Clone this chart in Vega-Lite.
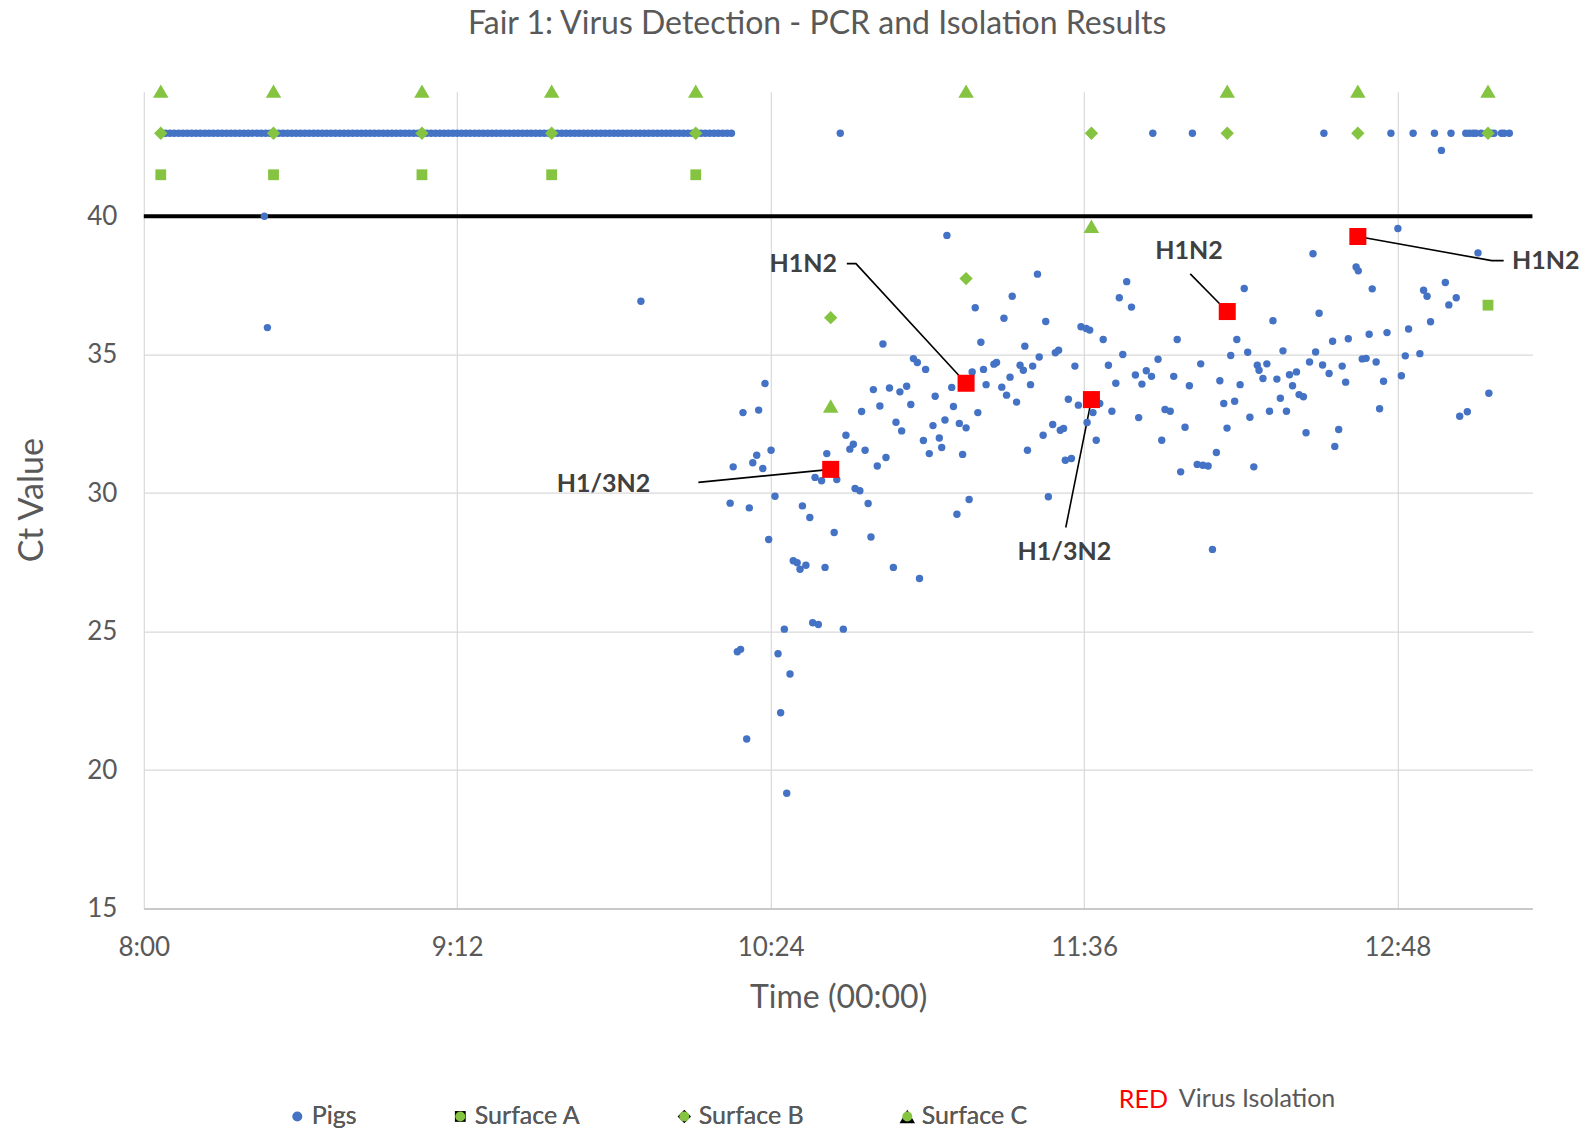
{
  "$schema": "https://vega.github.io/schema/vega-lite/v6.json",
  "width": 1388.6,
  "height": 816.8,
  "autosize": {"type": "none"},
  "padding": {"left": 143.8, "top": 91.7, "right": 55.6, "bottom": 223.5},
  "background": "white",
  "title": {
    "text": "Fair 1: Virus Detection - PCR and Isolation Results",
    "font": "Lato", "fontSize": 32, "fontWeight": "normal", "color": "#595959",
    "anchor": "middle", "dx": -21, "baseline": "bottom", "offset": 11
  },
  "config": {
    "view": {"stroke": null},
    "axis": {"labelFont": "Lato", "titleFont": "Lato", "labelColor": "#595959", "titleColor": "#595959", "titleFontWeight": "normal", "gridColor": "#D9D9D9", "gridWidth": 1.2, "ticks": false, "tickSize": 0}
  },
  "datasets": {
    "pts": [
      {"t":484,"ct":43,"s":"Pigs"},{"t":485,"ct":43,"s":"Pigs"},{"t":486,"ct":43,"s":"Pigs"},{"t":487,"ct":43,"s":"Pigs"},{"t":488,"ct":43,"s":"Pigs"},{"t":489,"ct":43,"s":"Pigs"},{"t":490,"ct":43,"s":"Pigs"},{"t":491,"ct":43,"s":"Pigs"},{"t":492,"ct":43,"s":"Pigs"},{"t":493,"ct":43,"s":"Pigs"},
      {"t":494,"ct":43,"s":"Pigs"},{"t":495,"ct":43,"s":"Pigs"},{"t":496,"ct":43,"s":"Pigs"},{"t":497,"ct":43,"s":"Pigs"},{"t":498,"ct":43,"s":"Pigs"},{"t":499,"ct":43,"s":"Pigs"},{"t":500,"ct":43,"s":"Pigs"},{"t":501,"ct":43,"s":"Pigs"},{"t":502,"ct":43,"s":"Pigs"},{"t":503,"ct":43,"s":"Pigs"},
      {"t":504,"ct":43,"s":"Pigs"},{"t":505,"ct":43,"s":"Pigs"},{"t":506,"ct":43,"s":"Pigs"},{"t":507,"ct":43,"s":"Pigs"},{"t":508,"ct":43,"s":"Pigs"},{"t":509,"ct":43,"s":"Pigs"},{"t":510,"ct":43,"s":"Pigs"},{"t":511,"ct":43,"s":"Pigs"},{"t":512,"ct":43,"s":"Pigs"},{"t":513,"ct":43,"s":"Pigs"},
      {"t":514,"ct":43,"s":"Pigs"},{"t":515,"ct":43,"s":"Pigs"},{"t":516,"ct":43,"s":"Pigs"},{"t":517,"ct":43,"s":"Pigs"},{"t":518,"ct":43,"s":"Pigs"},{"t":519,"ct":43,"s":"Pigs"},{"t":520,"ct":43,"s":"Pigs"},{"t":521,"ct":43,"s":"Pigs"},{"t":522,"ct":43,"s":"Pigs"},{"t":523,"ct":43,"s":"Pigs"},
      {"t":524,"ct":43,"s":"Pigs"},{"t":525,"ct":43,"s":"Pigs"},{"t":526,"ct":43,"s":"Pigs"},{"t":527,"ct":43,"s":"Pigs"},{"t":528,"ct":43,"s":"Pigs"},{"t":529,"ct":43,"s":"Pigs"},{"t":530,"ct":43,"s":"Pigs"},{"t":531,"ct":43,"s":"Pigs"},{"t":532,"ct":43,"s":"Pigs"},{"t":533,"ct":43,"s":"Pigs"},
      {"t":534,"ct":43,"s":"Pigs"},{"t":535,"ct":43,"s":"Pigs"},{"t":536,"ct":43,"s":"Pigs"},{"t":537,"ct":43,"s":"Pigs"},{"t":538,"ct":43,"s":"Pigs"},{"t":539,"ct":43,"s":"Pigs"},{"t":540,"ct":43,"s":"Pigs"},{"t":541,"ct":43,"s":"Pigs"},{"t":542,"ct":43,"s":"Pigs"},{"t":543,"ct":43,"s":"Pigs"},
      {"t":544,"ct":43,"s":"Pigs"},{"t":545,"ct":43,"s":"Pigs"},{"t":546,"ct":43,"s":"Pigs"},{"t":547,"ct":43,"s":"Pigs"},{"t":548,"ct":43,"s":"Pigs"},{"t":549,"ct":43,"s":"Pigs"},{"t":550,"ct":43,"s":"Pigs"},{"t":551,"ct":43,"s":"Pigs"},{"t":552,"ct":43,"s":"Pigs"},{"t":553,"ct":43,"s":"Pigs"},
      {"t":554,"ct":43,"s":"Pigs"},{"t":555,"ct":43,"s":"Pigs"},{"t":556,"ct":43,"s":"Pigs"},{"t":557,"ct":43,"s":"Pigs"},{"t":558,"ct":43,"s":"Pigs"},{"t":559,"ct":43,"s":"Pigs"},{"t":560,"ct":43,"s":"Pigs"},{"t":561,"ct":43,"s":"Pigs"},{"t":562,"ct":43,"s":"Pigs"},{"t":563,"ct":43,"s":"Pigs"},
      {"t":564,"ct":43,"s":"Pigs"},{"t":565,"ct":43,"s":"Pigs"},{"t":566,"ct":43,"s":"Pigs"},{"t":567,"ct":43,"s":"Pigs"},{"t":568,"ct":43,"s":"Pigs"},{"t":569,"ct":43,"s":"Pigs"},{"t":570,"ct":43,"s":"Pigs"},{"t":571,"ct":43,"s":"Pigs"},{"t":572,"ct":43,"s":"Pigs"},{"t":573,"ct":43,"s":"Pigs"},
      {"t":574,"ct":43,"s":"Pigs"},{"t":575,"ct":43,"s":"Pigs"},{"t":576,"ct":43,"s":"Pigs"},{"t":577,"ct":43,"s":"Pigs"},{"t":578,"ct":43,"s":"Pigs"},{"t":579,"ct":43,"s":"Pigs"},{"t":580,"ct":43,"s":"Pigs"},{"t":581,"ct":43,"s":"Pigs"},{"t":582,"ct":43,"s":"Pigs"},{"t":583,"ct":43,"s":"Pigs"},
      {"t":584,"ct":43,"s":"Pigs"},{"t":585,"ct":43,"s":"Pigs"},{"t":586,"ct":43,"s":"Pigs"},{"t":587,"ct":43,"s":"Pigs"},{"t":588,"ct":43,"s":"Pigs"},{"t":589,"ct":43,"s":"Pigs"},{"t":590,"ct":43,"s":"Pigs"},{"t":591,"ct":43,"s":"Pigs"},{"t":592,"ct":43,"s":"Pigs"},{"t":593,"ct":43,"s":"Pigs"},
      {"t":594,"ct":43,"s":"Pigs"},{"t":595,"ct":43,"s":"Pigs"},{"t":596,"ct":43,"s":"Pigs"},{"t":597,"ct":43,"s":"Pigs"},{"t":598,"ct":43,"s":"Pigs"},{"t":599,"ct":43,"s":"Pigs"},{"t":600,"ct":43,"s":"Pigs"},{"t":601,"ct":43,"s":"Pigs"},{"t":602,"ct":43,"s":"Pigs"},{"t":603,"ct":43,"s":"Pigs"},
      {"t":604,"ct":43,"s":"Pigs"},{"t":605,"ct":43,"s":"Pigs"},{"t":606,"ct":43,"s":"Pigs"},{"t":607,"ct":43,"s":"Pigs"},{"t":608,"ct":43,"s":"Pigs"},{"t":609,"ct":43,"s":"Pigs"},{"t":610,"ct":43,"s":"Pigs"},{"t":611,"ct":43,"s":"Pigs"},{"t":612,"ct":43,"s":"Pigs"},{"t":613,"ct":43,"s":"Pigs"},
      {"t":614,"ct":43,"s":"Pigs"},{"t":615,"ct":43,"s":"Pigs"},
      {"t":640.0,"ct":43,"s":"Pigs"},{"t":711.8,"ct":43,"s":"Pigs"},{"t":720.9,"ct":43,"s":"Pigs"},{"t":751.1,"ct":43,"s":"Pigs"},{"t":766.5,"ct":43,"s":"Pigs"},{"t":771.6,"ct":43,"s":"Pigs"},{"t":776.5,"ct":43,"s":"Pigs"},{"t":780.3,"ct":43,"s":"Pigs"},{"t":783.7,"ct":43,"s":"Pigs"},{"t":784.5,"ct":43,"s":"Pigs"},
      {"t":785.4,"ct":43,"s":"Pigs"},{"t":786.0,"ct":43,"s":"Pigs"},{"t":787.2,"ct":43,"s":"Pigs"},{"t":788.5,"ct":43,"s":"Pigs"},{"t":789.5,"ct":43,"s":"Pigs"},{"t":790.2,"ct":43,"s":"Pigs"},{"t":791.9,"ct":43,"s":"Pigs"},{"t":792.5,"ct":43,"s":"Pigs"},{"t":793.7,"ct":43,"s":"Pigs"},{"t":778.1,"ct":42.38,"s":"Pigs"},
      {"t":594.2,"ct":36.93,"s":"Pigs"},{"t":664.5,"ct":39.31,"s":"Pigs"},{"t":507.7,"ct":40.0,"s":"Pigs"},{"t":508.4,"ct":35.98,"s":"Pigs"},
      {"t":685.3,"ct":37.91,"s":"Pigs"},{"t":679.5,"ct":37.11,"s":"Pigs"},{"t":671.0,"ct":36.70,"s":"Pigs"},{"t":677.6,"ct":36.32,"s":"Pigs"},{"t":687.2,"ct":36.20,"s":"Pigs"},{"t":649.8,"ct":35.39,"s":"Pigs"},{"t":672.3,"ct":35.45,"s":"Pigs"},{"t":682.4,"ct":35.31,"s":"Pigs"},{"t":656.8,"ct":34.86,"s":"Pigs"},{"t":657.7,"ct":34.72,"s":"Pigs"},
      {"t":685.7,"ct":34.92,"s":"Pigs"},{"t":675.9,"ct":34.72,"s":"Pigs"},{"t":675.3,"ct":34.66,"s":"Pigs"},{"t":681.3,"ct":34.62,"s":"Pigs"},{"t":682.05,"ct":34.44,"s":"Pigs"},{"t":684.2,"ct":34.59,"s":"Pigs"},{"t":659.6,"ct":34.47,"s":"Pigs"},{"t":670.3,"ct":34.38,"s":"Pigs"},{"t":672.9,"ct":34.47,"s":"Pigs"},{"t":679.0,"ct":34.19,"s":"Pigs"},
      {"t":622.7,"ct":33.96,"s":"Pigs"},{"t":647.6,"ct":33.74,"s":"Pigs"},{"t":651.3,"ct":33.80,"s":"Pigs"},{"t":653.7,"ct":33.66,"s":"Pigs"},{"t":655.25,"ct":33.86,"s":"Pigs"},{"t":665.6,"ct":33.82,"s":"Pigs"},{"t":673.5,"ct":33.92,"s":"Pigs"},{"t":677.1,"ct":33.83,"s":"Pigs"},{"t":678.2,"ct":33.54,"s":"Pigs"},{"t":683.7,"ct":33.92,"s":"Pigs"},
      {"t":680.5,"ct":33.29,"s":"Pigs"},{"t":661.8,"ct":33.50,"s":"Pigs"},{"t":656.2,"ct":33.20,"s":"Pigs"},{"t":649.1,"ct":33.15,"s":"Pigs"},{"t":666.0,"ct":33.13,"s":"Pigs"},{"t":644.9,"ct":32.95,"s":"Pigs"},{"t":617.65,"ct":32.91,"s":"Pigs"},{"t":621.25,"ct":33.00,"s":"Pigs"},{"t":671.6,"ct":32.91,"s":"Pigs"},{"t":652.8,"ct":32.56,"s":"Pigs"},
      {"t":654.1,"ct":32.25,"s":"Pigs"},{"t":661.3,"ct":32.44,"s":"Pigs"},{"t":664.05,"ct":32.64,"s":"Pigs"},{"t":667.35,"ct":32.52,"s":"Pigs"},{"t":668.9,"ct":32.36,"s":"Pigs"},{"t":686.6,"ct":32.09,"s":"Pigs"},{"t":683.0,"ct":31.55,"s":"Pigs"},{"t":641.3,"ct":32.09,"s":"Pigs"},{"t":643.0,"ct":31.77,"s":"Pigs"},{"t":642.2,"ct":31.59,"s":"Pigs"},
      {"t":659.1,"ct":31.90,"s":"Pigs"},{"t":662.75,"ct":31.99,"s":"Pigs"},{"t":663.3,"ct":31.65,"s":"Pigs"},{"t":645.7,"ct":31.55,"s":"Pigs"},{"t":650.5,"ct":31.29,"s":"Pigs"},{"t":648.5,"ct":30.98,"s":"Pigs"},{"t":636.9,"ct":31.43,"s":"Pigs"},{"t":668.1,"ct":31.40,"s":"Pigs"},{"t":660.45,"ct":31.43,"s":"Pigs"},{"t":624.1,"ct":31.55,"s":"Pigs"},
      {"t":620.8,"ct":31.37,"s":"Pigs"},{"t":619.9,"ct":31.10,"s":"Pigs"},{"t":622.2,"ct":30.89,"s":"Pigs"},{"t":615.4,"ct":30.95,"s":"Pigs"},{"t":634.2,"ct":30.57,"s":"Pigs"},{"t":635.7,"ct":30.45,"s":"Pigs"},{"t":639.2,"ct":30.49,"s":"Pigs"},{"t":643.4,"ct":30.17,"s":"Pigs"},{"t":644.5,"ct":30.09,"s":"Pigs"},{"t":625.0,"ct":29.89,"s":"Pigs"},
      {"t":614.7,"ct":29.64,"s":"Pigs"},{"t":619.1,"ct":29.47,"s":"Pigs"},{"t":631.3,"ct":29.54,"s":"Pigs"},{"t":633.0,"ct":29.12,"s":"Pigs"},{"t":646.4,"ct":29.63,"s":"Pigs"},{"t":669.6,"ct":29.77,"s":"Pigs"},{"t":666.8,"ct":29.24,"s":"Pigs"},{"t":687.8,"ct":29.87,"s":"Pigs"},{"t":638.6,"ct":28.58,"s":"Pigs"},{"t":623.55,"ct":28.33,"s":"Pigs"},
      {"t":647.05,"ct":28.42,"s":"Pigs"},{"t":629.2,"ct":27.56,"s":"Pigs"},{"t":630.1,"ct":27.49,"s":"Pigs"},{"t":632.1,"ct":27.40,"s":"Pigs"},{"t":630.75,"ct":27.25,"s":"Pigs"},{"t":636.5,"ct":27.32,"s":"Pigs"},{"t":652.2,"ct":27.32,"s":"Pigs"},{"t":658.2,"ct":26.92,"s":"Pigs"},
      {"t":627.15,"ct":25.09,"s":"Pigs"},{"t":633.66,"ct":25.32,"s":"Pigs"},{"t":634.96,"ct":25.26,"s":"Pigs"},{"t":640.7,"ct":25.09,"s":"Pigs"},{"t":616.35,"ct":24.27,"s":"Pigs"},{"t":617.1,"ct":24.36,"s":"Pigs"},{"t":625.7,"ct":24.20,"s":"Pigs"},{"t":628.45,"ct":23.47,"s":"Pigs"},{"t":626.3,"ct":22.07,"s":"Pigs"},{"t":618.5,"ct":21.12,"s":"Pigs"},{"t":627.7,"ct":19.16,"s":"Pigs"},
      {"t":768.1,"ct":39.56,"s":"Pigs"},{"t":748.6,"ct":38.65,"s":"Pigs"},{"t":786.5,"ct":38.68,"s":"Pigs"},{"t":758.5,"ct":38.17,"s":"Pigs"},{"t":759.0,"ct":38.03,"s":"Pigs"},{"t":705.8,"ct":37.64,"s":"Pigs"},{"t":732.8,"ct":37.39,"s":"Pigs"},{"t":704.1,"ct":37.06,"s":"Pigs"},{"t":706.9,"ct":36.72,"s":"Pigs"},{"t":762.2,"ct":37.38,"s":"Pigs"},
      {"t":750.0,"ct":36.50,"s":"Pigs"},{"t":779.0,"ct":37.61,"s":"Pigs"},{"t":774.0,"ct":37.33,"s":"Pigs"},{"t":774.8,"ct":37.11,"s":"Pigs"},{"t":781.5,"ct":37.06,"s":"Pigs"},{"t":779.8,"ct":36.80,"s":"Pigs"},{"t":739.4,"ct":36.23,"s":"Pigs"},{"t":775.6,"ct":36.19,"s":"Pigs"},{"t":695.3,"ct":36.01,"s":"Pigs"},{"t":696.5,"ct":35.95,"s":"Pigs"},
      {"t":697.3,"ct":35.89,"s":"Pigs"},{"t":700.4,"ct":35.55,"s":"Pigs"},{"t":717.4,"ct":35.55,"s":"Pigs"},{"t":731.1,"ct":35.55,"s":"Pigs"},{"t":770.55,"ct":35.93,"s":"Pigs"},{"t":761.5,"ct":35.74,"s":"Pigs"},{"t":765.6,"ct":35.80,"s":"Pigs"},{"t":756.7,"ct":35.58,"s":"Pigs"},{"t":753.1,"ct":35.49,"s":"Pigs"},{"t":689.4,"ct":35.07,"s":"Pigs"},
      {"t":690.15,"ct":35.16,"s":"Pigs"},{"t":704.9,"ct":35.01,"s":"Pigs"},{"t":713.0,"ct":34.84,"s":"Pigs"},{"t":729.7,"ct":34.97,"s":"Pigs"},{"t":733.6,"ct":35.09,"s":"Pigs"},{"t":741.7,"ct":35.14,"s":"Pigs"},{"t":749.2,"ct":35.10,"s":"Pigs"},{"t":773.15,"ct":35.04,"s":"Pigs"},{"t":769.8,"ct":34.96,"s":"Pigs"},{"t":693.9,"ct":34.59,"s":"Pigs"},
      {"t":701.6,"ct":34.62,"s":"Pigs"},{"t":722.8,"ct":34.67,"s":"Pigs"},{"t":735.8,"ct":34.62,"s":"Pigs"},{"t":736.2,"ct":34.44,"s":"Pigs"},{"t":737.1,"ct":34.14,"s":"Pigs"},{"t":738.0,"ct":34.67,"s":"Pigs"},{"t":747.8,"ct":34.74,"s":"Pigs"},{"t":750.8,"ct":34.63,"s":"Pigs"},{"t":755.3,"ct":34.59,"s":"Pigs"},{"t":759.9,"ct":34.85,"s":"Pigs"},
      {"t":760.8,"ct":34.87,"s":"Pigs"},{"t":763.1,"ct":34.74,"s":"Pigs"},{"t":707.8,"ct":34.27,"s":"Pigs"},{"t":710.3,"ct":34.42,"s":"Pigs"},{"t":711.5,"ct":34.22,"s":"Pigs"},{"t":709.3,"ct":33.94,"s":"Pigs"},{"t":716.6,"ct":34.22,"s":"Pigs"},{"t":720.2,"ct":33.88,"s":"Pigs"},{"t":727.2,"ct":34.06,"s":"Pigs"},{"t":731.85,"ct":33.92,"s":"Pigs"},
      {"t":740.3,"ct":34.12,"s":"Pigs"},{"t":743.2,"ct":34.28,"s":"Pigs"},{"t":744.8,"ct":34.38,"s":"Pigs"},{"t":743.9,"ct":33.88,"s":"Pigs"},{"t":752.3,"ct":34.32,"s":"Pigs"},{"t":756.1,"ct":34.01,"s":"Pigs"},{"t":764.8,"ct":34.04,"s":"Pigs"},{"t":768.9,"ct":34.24,"s":"Pigs"},{"t":703.3,"ct":33.97,"s":"Pigs"},{"t":692.4,"ct":33.39,"s":"Pigs"},
      {"t":694.7,"ct":33.18,"s":"Pigs"},{"t":702.4,"ct":32.96,"s":"Pigs"},{"t":699.6,"ct":33.24,"s":"Pigs"},{"t":698.05,"ct":32.91,"s":"Pigs"},{"t":708.55,"ct":32.73,"s":"Pigs"},{"t":714.6,"ct":33.02,"s":"Pigs"},{"t":715.8,"ct":32.96,"s":"Pigs"},{"t":728.1,"ct":33.24,"s":"Pigs"},{"t":730.6,"ct":33.32,"s":"Pigs"},{"t":741.1,"ct":33.43,"s":"Pigs"},
      {"t":745.4,"ct":33.56,"s":"Pigs"},{"t":746.4,"ct":33.48,"s":"Pigs"},{"t":734.1,"ct":32.74,"s":"Pigs"},{"t":738.6,"ct":32.96,"s":"Pigs"},{"t":742.5,"ct":32.96,"s":"Pigs"},{"t":763.9,"ct":33.05,"s":"Pigs"},{"t":782.3,"ct":32.78,"s":"Pigs"},{"t":784.05,"ct":32.94,"s":"Pigs"},{"t":789.0,"ct":33.61,"s":"Pigs"},{"t":688.8,"ct":32.48,"s":"Pigs"},
      {"t":690.55,"ct":32.27,"s":"Pigs"},{"t":691.3,"ct":32.34,"s":"Pigs"},{"t":696.7,"ct":32.55,"s":"Pigs"},{"t":698.8,"ct":31.91,"s":"Pigs"},{"t":719.2,"ct":32.38,"s":"Pigs"},{"t":728.85,"ct":32.35,"s":"Pigs"},{"t":747.0,"ct":32.18,"s":"Pigs"},{"t":754.5,"ct":32.30,"s":"Pigs"},{"t":713.85,"ct":31.91,"s":"Pigs"},{"t":691.7,"ct":31.19,"s":"Pigs"},
      {"t":693.1,"ct":31.25,"s":"Pigs"},{"t":726.4,"ct":31.47,"s":"Pigs"},{"t":718.2,"ct":30.77,"s":"Pigs"},{"t":722.0,"ct":31.04,"s":"Pigs"},{"t":723.3,"ct":31.01,"s":"Pigs"},{"t":724.5,"ct":30.98,"s":"Pigs"},{"t":735.0,"ct":30.95,"s":"Pigs"},{"t":753.6,"ct":31.69,"s":"Pigs"},{"t":725.5,"ct":27.97,"s":"Pigs"},
      {"t":483.9,"ct":41.5,"s":"Surface A"},{"t":509.8,"ct":41.5,"s":"Surface A"},{"t":543.9,"ct":41.5,"s":"Surface A"},{"t":573.7,"ct":41.5,"s":"Surface A"},{"t":606.8,"ct":41.5,"s":"Surface A"},{"t":637.8,"ct":30.86,"s":"Surface A"},{"t":668.9,"ct":33.97,"s":"Surface A"},{"t":697.7,"ct":33.38,"s":"Surface A"},{"t":728.9,"ct":36.56,"s":"Surface A"},{"t":758.9,"ct":39.27,"s":"Surface A"},{"t":788.8,"ct":36.79,"s":"Surface A"},
      {"t":483.9,"ct":43,"s":"Surface B"},{"t":509.8,"ct":43,"s":"Surface B"},{"t":543.9,"ct":43,"s":"Surface B"},{"t":573.7,"ct":43,"s":"Surface B"},{"t":606.8,"ct":43,"s":"Surface B"},{"t":637.8,"ct":36.34,"s":"Surface B"},{"t":668.9,"ct":37.75,"s":"Surface B"},{"t":697.7,"ct":43,"s":"Surface B"},{"t":728.9,"ct":43,"s":"Surface B"},{"t":758.9,"ct":43,"s":"Surface B"},{"t":788.8,"ct":43,"s":"Surface B"},
      {"t":483.9,"ct":44.52,"s":"Surface C"},{"t":509.8,"ct":44.52,"s":"Surface C"},{"t":543.9,"ct":44.52,"s":"Surface C"},{"t":573.7,"ct":44.52,"s":"Surface C"},{"t":606.8,"ct":44.52,"s":"Surface C"},{"t":637.8,"ct":33.15,"s":"Surface C"},{"t":668.9,"ct":44.52,"s":"Surface C"},{"t":697.7,"ct":39.64,"s":"Surface C"},{"t":728.9,"ct":44.52,"s":"Surface C"},{"t":758.9,"ct":44.52,"s":"Surface C"},{"t":788.8,"ct":44.52,"s":"Surface C"}
    ],
    "iso": [
      {"t":637.8,"ct":30.86,"v":"Virus Isolation"},{"t":668.9,"ct":33.97,"v":"Virus Isolation"},{"t":697.7,"ct":33.38,"v":"Virus Isolation"},{"t":728.9,"ct":36.56,"v":"Virus Isolation"},{"t":758.9,"ct":39.27,"v":"Virus Isolation"}
    ],
    "leaders": [
      {"id":1,"o":1,"t":607.4,"ct":30.39},{"id":1,"o":2,"t":637.8,"ct":30.86},
      {"id":2,"o":1,"t":641.5,"ct":38.29},{"id":2,"o":2,"t":643.6,"ct":38.29},{"id":2,"o":3,"t":668.9,"ct":33.97},
      {"id":3,"o":1,"t":691.8,"ct":28.76},{"id":3,"o":2,"t":697.7,"ct":33.38},
      {"id":4,"o":1,"t":720.4,"ct":37.92},{"id":4,"o":2,"t":728.9,"ct":36.56},
      {"id":5,"o":1,"t":758.9,"ct":39.27},{"id":5,"o":2,"t":789.65,"ct":38.40},{"id":5,"o":3,"t":792.4,"ct":38.40}
    ],
    "labels": [
      {"t":585.6,"ct":30.32,"label":"H1/3N2"},{"t":631.5,"ct":38.29,"label":"H1N2"},{"t":691.5,"ct":27.87,"label":"H1/3N2"},{"t":720.1,"ct":38.73,"label":"H1N2"}
    ],
    "labelsRight": [
      {"t":794.3,"ct":38.40,"label":"H1N2"}
    ],
    "threshold": [
      {"ct": 40}
    ]
  },
  "layer": [
    {
      "data": {"name": "threshold"},
      "mark": {"type": "rule", "color": "#000000", "strokeWidth": 4},
      "encoding": {"y": {"field": "ct", "type": "quantitative"}}
    },
    {
      "data": {"name": "leaders"},
      "mark": {"type": "line", "color": "#000000", "strokeWidth": 1.6},
      "encoding": {
        "x": {"field": "t", "type": "quantitative"},
        "y": {"field": "ct", "type": "quantitative"},
        "detail": {"field": "id", "type": "nominal"},
        "order": {"field": "o", "type": "quantitative"}
      }
    },
    {
      "data": {"name": "pts"},
      "mark": {"type": "point", "filled": true, "opacity": 1, "strokeWidth": 0},
      "encoding": {
        "x": {
          "field": "t", "type": "quantitative",
          "scale": {"domain": [480, 799], "nice": false, "zero": false},
          "axis": {
            "values": [480, 552, 624, 696, 768],
            "labelExpr": "floor(datum.value/60) + ':' + (datum.value % 60 < 10 ? '0' : '') + (datum.value % 60)",
            "labelFontSize": 26, "labelPadding": 26, "labelFlush": false, "labelOverlap": false,
            "title": "Time (00:00)", "titleFontSize": 32, "titleY": 89, "titleBaseline": "middle",
            "grid": true, "domainColor": "#BFBFBF", "domainWidth": 1.5
          }
        },
        "y": {
          "field": "ct", "type": "quantitative",
          "scale": {"domain": [15, 44.5], "nice": false, "zero": false},
          "axis": {
            "values": [15, 20, 25, 30, 35, 40],
            "labelFontSize": 26, "labelPadding": 27,
            "title": "Ct Value", "titleFontSize": 34, "titleAngle": -90, "titleX": -111, "titleY": 408,
            "titleAlign": "center", "titleBaseline": "middle",
            "domain": false, "grid": true
          }
        },
        "color": {
          "field": "s", "type": "nominal",
          "scale": {"domain": ["Pigs", "Surface A", "Surface B", "Surface C"], "range": ["#4472C4", "#85C441", "#85C441", "#85C441"]},
          "legend": {
            "orient": "none", "direction": "horizontal", "legendX": 141, "legendY": 1012,
            "title": null, "labelFont": "Lato", "labelFontSize": 25, "labelColor": "#595959",
            "columnPadding": 91, "labelOffset": 2, "padding": 0, "symbolStrokeWidth": 0
          }
        },
        "shape": {
          "field": "s", "type": "nominal",
          "scale": {"domain": ["Pigs", "Surface A", "Surface B", "Surface C"], "range": ["circle", "square", "diamond", "triangle-up"]},
          "legend": {
            "orient": "none", "direction": "horizontal", "legendX": 141, "legendY": 1012,
            "title": null, "labelFont": "Lato", "labelFontSize": 25, "labelColor": "#595959",
            "columnPadding": 91, "labelOffset": 2, "padding": 0, "symbolStrokeWidth": 0
          }
        },
        "size": {
          "field": "s", "type": "nominal",
          "scale": {"domain": ["Pigs", "Surface A", "Surface B", "Surface C"], "range": [55, 240, 240, 220]},
          "legend": {
            "orient": "none", "direction": "horizontal", "legendX": 141, "legendY": 1012,
            "title": null, "labelFont": "Lato", "labelFontSize": 25, "labelColor": "#595959",
            "columnPadding": 91, "labelOffset": 2, "padding": 0, "symbolStrokeWidth": 0
          }
        }
      }
    },
    {
      "data": {"name": "iso"},
      "mark": {"type": "point", "shape": "square", "filled": true, "opacity": 1, "size": 290, "strokeWidth": 0},
      "encoding": {
        "x": {"field": "t", "type": "quantitative"},
        "y": {"field": "ct", "type": "quantitative"},
        "color": {
          "field": "v", "type": "nominal",
          "scale": {"domain": ["Virus Isolation"], "range": ["#FF0000"]},
          "legend": {
            "orient": "none", "legendX": 975, "legendY": 995,
            "title": "RED", "titleOrient": "left", "titleColor": "#FF0000", "titleFont": "Lato", "titleFontSize": 25, "titleFontWeight": "normal", "titlePadding": -15,
            "labelFont": "Lato", "labelFontSize": 25, "labelColor": "#595959", "symbolOpacity": 0, "symbolSize": 0, "labelOffset": 0, "padding": 0
          }
        }
      }
    },
    {
      "data": {"name": "labels"},
      "mark": {"type": "text", "font": "Lato", "fontWeight": "bold", "fontSize": 25, "color": "#404040", "align": "center", "baseline": "middle"},
      "encoding": {
        "x": {"field": "t", "type": "quantitative"},
        "y": {"field": "ct", "type": "quantitative"},
        "text": {"field": "label"}
      }
    },
    {
      "data": {"name": "labelsRight"},
      "mark": {"type": "text", "font": "Lato", "fontWeight": "bold", "fontSize": 25, "color": "#404040", "align": "left", "baseline": "middle"},
      "encoding": {
        "x": {"field": "t", "type": "quantitative"},
        "y": {"field": "ct", "type": "quantitative"},
        "text": {"field": "label"}
      }
    }
  ],
  "resolve": {"scale": {"color": "independent"}}
}
